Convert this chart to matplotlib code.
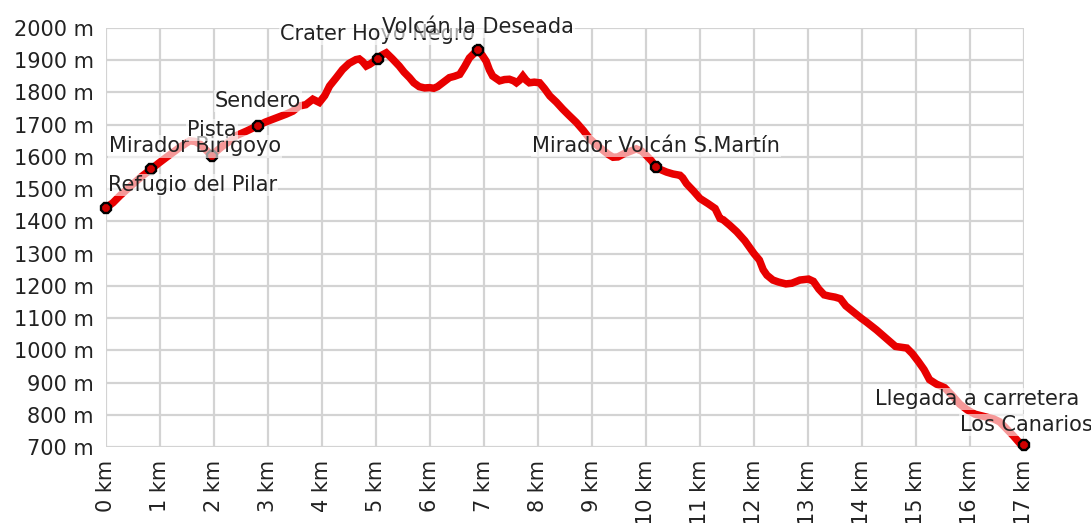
import matplotlib
matplotlib.use("Agg")
import matplotlib.pyplot as plt

# elevation profile
dist_km = [0.0, 0.13, 0.26, 0.38, 0.5, 0.65, 0.83, 0.97, 1.12, 1.25, 1.37, 1.46, 1.55, 1.65, 1.74, 1.85, 1.96,
           2.06, 2.17, 2.3, 2.41, 2.6, 2.81, 2.95, 3.09, 3.2, 3.34, 3.46, 3.58, 3.7, 3.83, 3.95, 4.05, 4.14,
           4.26, 4.38, 4.5, 4.63, 4.69, 4.75, 4.82, 4.88, 5.03, 5.1, 5.19, 5.3, 5.43, 5.52, 5.62, 5.7, 5.8,
           5.9, 5.99, 6.07, 6.14, 6.25, 6.36, 6.45, 6.55, 6.64, 6.73, 6.82, 6.89, 6.97, 7.04, 7.1, 7.16,
           7.29, 7.38, 7.47, 7.55, 7.6, 7.66, 7.72, 7.78, 7.84, 7.93, 8.03, 8.12, 8.22, 8.34, 8.46, 8.58,
           8.71, 8.84, 8.96, 9.08, 9.21, 9.3, 9.39, 9.48, 9.58, 9.7, 9.82, 9.92, 10.01, 10.1, 10.19, 10.28,
           10.38, 10.5, 10.63, 10.68, 10.75, 10.88, 11.0, 11.15, 11.28, 11.37, 11.43, 11.55, 11.68, 11.83,
           12.0, 12.1, 12.17, 12.24, 12.35, 12.45, 12.59, 12.7, 12.85, 13.01, 13.1, 13.2, 13.3, 13.4, 13.5,
           13.6, 13.7, 13.85, 13.99, 14.08, 14.18, 14.27, 14.38, 14.5, 14.62, 14.7, 14.83, 14.93, 15.04,
           15.15, 15.25, 15.38, 15.53, 15.67, 15.81, 15.95, 16.09, 16.25, 16.44, 16.55, 16.65, 16.8, 16.93,
           17.0]
elev_m = [1442, 1458, 1480, 1498, 1516, 1538, 1561, 1580, 1599, 1615, 1630, 1640, 1650, 1648, 1640, 1622, 1604,
          1620, 1635, 1650, 1666, 1680, 1697, 1708, 1717, 1724, 1733, 1742, 1758, 1762, 1779, 1769, 1790, 1820,
          1845, 1871, 1890, 1902, 1904, 1896, 1882, 1887, 1904, 1915, 1923, 1905, 1882, 1863, 1846, 1830, 1818,
          1814, 1815, 1813, 1818, 1832, 1846, 1850, 1856, 1880, 1907, 1922, 1931, 1915, 1897, 1870, 1851,
          1836, 1840, 1841, 1836, 1830, 1838, 1851, 1838, 1830, 1832, 1830, 1812, 1789, 1770, 1748, 1728,
          1707, 1682, 1656, 1638, 1620, 1608, 1599, 1600, 1609, 1617, 1625, 1618, 1604, 1588, 1568, 1560,
          1553, 1547, 1543, 1535, 1517, 1494, 1471, 1455, 1440, 1409, 1405, 1388, 1368, 1340,
          1300, 1280, 1250, 1233, 1218, 1212, 1206, 1208, 1218, 1221, 1214, 1190, 1172, 1168, 1165,
          1160, 1138, 1118, 1099, 1088, 1075, 1063, 1047, 1030, 1012, 1010, 1007, 990, 966,
          940, 909, 895, 884, 860, 833, 815, 802, 795, 787, 778, 761, 735, 710,
          706]

# waypoints
wp_names = ["Refugio del Pilar", "Mirador Birigoyo", "Pista", "Sendero", "Crater Hoyo Negro",
            "Volcán la Deseada", "Mirador Volcán S.Martín", "Llegada a carretera", "Los Canarios"]
wp_km = [0.0, 0.83, 1.96, 2.81, 5.03, 6.89, 10.19, 16.3, 17.0]
wp_elev = [1442, 1561, 1604, 1697, 1904, 1931, 1568, 790, 706]
wp_marker = [True, True, True, True, True, True, True, False, True]

# label placement (pixel offsets from the waypoint)
lbl_dx = [2, -42, 0, 0, 0, 0, 0, 93, 69]
lbl_dy = [23, 23, 26, 25, 25, 23, 21, 19, 20]
lbl_ha = ["left", "left", "center", "center", "center", "center", "center", "right", "right"]

y_ticks = list(range(700, 2001, 100))
x_ticks = list(range(0, 18))

plt.rcParams["font.family"] = ["DejaVu Sans"]
fig = plt.figure(figsize=(10.91, 5.23), dpi=100)
ax = fig.add_axes([106 / 1091, 1 - 447 / 523, (1024 - 106) / 1091, (447 - 28) / 523])

ax.plot(dist_km, elev_m, color="#e80000", lw=5.4, solid_joinstyle="miter", zorder=3)

for name, x, y, mk, dx, dy, ha in zip(wp_names, wp_km, wp_elev, wp_marker, lbl_dx, lbl_dy, lbl_ha):
    if mk:
        ax.plot(x, y, marker="8", ms=8.5, mfc="#d00000", mec="black", mew=1.7, zorder=4, clip_on=False)
    ax.annotate(name, (x, y), xytext=(dx, dy), textcoords="offset pixels", ha=ha, va="center",
                fontsize=15, color="#222222", zorder=5, annotation_clip=False,
                bbox=dict(boxstyle="square,pad=0.05", fc="white", ec="none", alpha=0.6))

ax.set_xlim(0, 17)
ax.set_ylim(700, 2000)
ax.set_xticks(x_ticks)
ax.set_xticklabels([f"{k} km" for k in x_ticks], rotation=90, fontsize=15, color="#222222")
ax.set_yticks(y_ticks)
ax.set_yticklabels([f"{v} m" for v in y_ticks], fontsize=15, color="#222222")
ax.tick_params(length=0, pad=9)
ax.grid(True, color="#d3d3d3", lw=1.6)
ax.set_axisbelow(True)
for s in ax.spines.values():
    s.set_visible(False)

fig.savefig("out.png", dpi=100)
